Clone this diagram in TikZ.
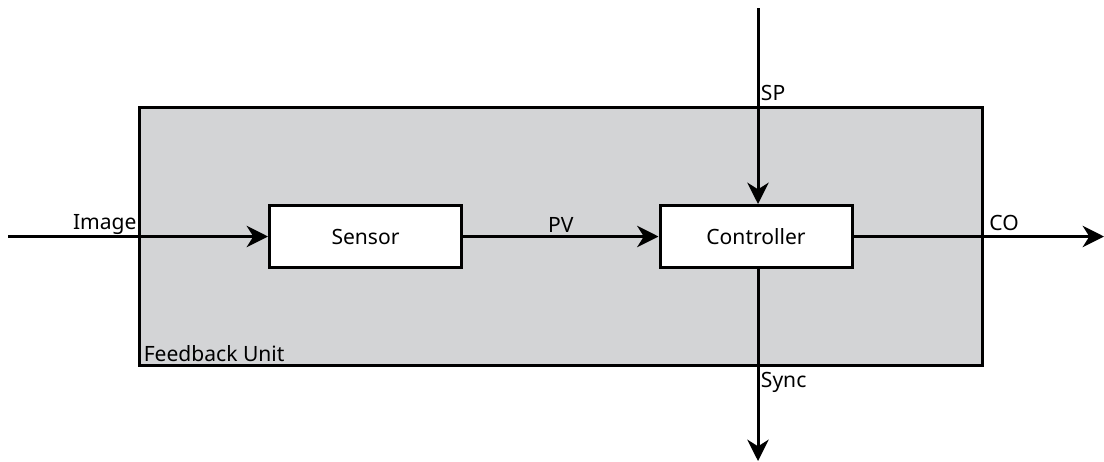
\documentclass[tikz,border=0pt]{standalone}
\usepackage{fontspec}
\setmainfont{Noto Sans}
\usetikzlibrary{arrows.meta, positioning}

\tikzset{
  unitbox/.style={draw, line width=2.25pt, fill=unitgray, minimum width=632pt, minimum height=193.5pt, inner sep=0pt},
  block/.style={draw, line width=2.25pt, fill=white, minimum width=144pt, minimum height=46.5pt, font=\fontsize{15.8}{18}\selectfont},
  flow/.style={line width=2.25pt, -{Stealth[length=16pt, width=16pt, inset=5pt]}},
  sig/.style={font=\fontsize{15.8}{18}\selectfont, inner sep=2pt}
}
\definecolor{unitgray}{HTML}{D3D4D6}

\begin{document}
\begin{tikzpicture}[x=0.75pt, y=-0.75pt]
    \useasboundingbox (0,0) rectangle (1104,461);

    % Feedback unit
    \node[unitbox] (unit) at (561,236.5) {};
    \node[sig, anchor=south west, inner sep=4pt] at (unit.south west) {Feedback Unit};

    % Blocks
    \node[block] (sensor) at (365.5,236.5) {Sensor};
    \node[block] (ctrl) at (756,236.5) {Controller};

    % Free ends
    \coordinate (imgin) at (8,236.5);
    \coordinate (spin) at (758,8);
    \coordinate (coout) at (1104,236.5);
    \coordinate (syncout) at (758,461);

    % Signals
    \draw[flow] (imgin) -- (sensor.west);
    \node[sig, anchor=south east, inner sep=1pt] at (unit.west |- imgin) {Image};
    \draw[flow] (sensor) -- node[sig, above] {PV} (ctrl);
    \draw[flow] (spin) -- (spin |- ctrl.north);
    \node[sig, anchor=west] at (758,93) {SP};
    \draw[flow] (ctrl.east) -- (coout);
    \node[sig, anchor=south west, inner sep=4pt] at (unit.east |- coout) {CO};
    \draw[flow] (syncout |- ctrl.south) -- (syncout);
    \node[sig, anchor=west] at (758,382) {Sync};
\end{tikzpicture}
\end{document}
